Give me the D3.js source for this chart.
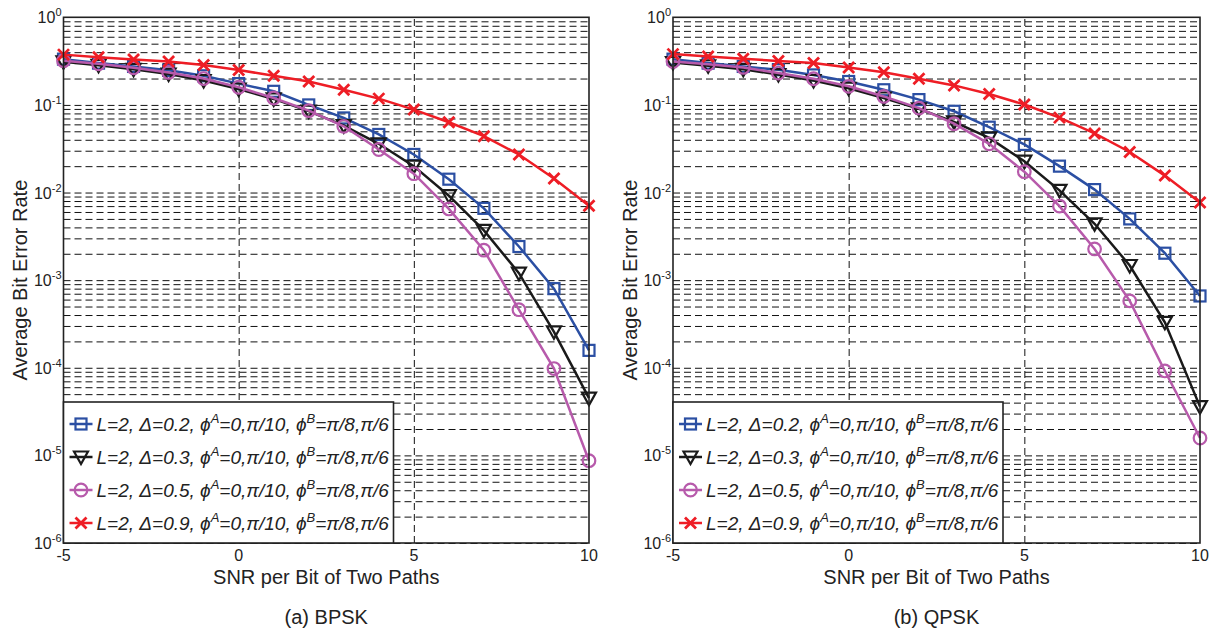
<!DOCTYPE html>
<html>
<head>
<meta charset="utf-8">
<title>ber_two_paths</title>
<script src="https://d3js.org/d3.v7.min.js"></script>
<style>
  body { margin: 0; background: #fff; }
  svg { font-family: "Liberation Sans", Arial, sans-serif; }
  .grid line { stroke: #111; stroke-width: 1; stroke-dasharray: 7,4; }
  .grid path { display: none; }
  .ticklab { font-size: 16px; fill: #222; }
  .axlab { font-size: 20px; fill: #222; }
  .legtext { font-size: 19px; font-style: italic; fill: #222; }
</style>
</head>
<body>
<script>
// SNR per bit (dB)
var snr = [-5,-4,-3,-2,-1,0,1,2,3,4,5,6,7,8,9,10];

// (a) BPSK
var bpsk02 = [0.333,0.30,0.275,0.248,0.215,0.175,0.143,0.10,0.071,0.046,0.0272,0.0142,0.0066,0.00242,0.0008,0.000158];
var bpsk03 = [0.31,0.283,0.255,0.225,0.19,0.152,0.117,0.085,0.058,0.036,0.02,0.0092,0.0037,0.0012,0.000257,0.000045];
var bpsk05 = [0.32,0.295,0.265,0.235,0.2,0.159,0.12,0.086,0.057,0.031,0.0164,0.0065,0.0022,0.00046,0.000098,0.0000087];
var bpsk09 = [0.375,0.35,0.33,0.313,0.285,0.25,0.215,0.185,0.149,0.118,0.0885,0.0634,0.044,0.0272,0.0145,0.00705];

// (b) QPSK
var qpsk02 = [0.333,0.30,0.275,0.252,0.22,0.185,0.149,0.115,0.0846,0.0557,0.0354,0.0200,0.0108,0.0050,0.00203,0.00066];
var qpsk03 = [0.305,0.28,0.255,0.222,0.19,0.155,0.12,0.09,0.064,0.042,0.0228,0.0106,0.0044,0.00147,0.00033,0.000036];
var qpsk05 = [0.313,0.292,0.268,0.231,0.199,0.163,0.125,0.092,0.061,0.036,0.0173,0.0070,0.00227,0.00058,0.000092,0.0000158];
var qpsk09 = [0.38,0.357,0.336,0.318,0.30,0.267,0.236,0.199,0.167,0.133,0.101,0.0716,0.0473,0.029,0.0156,0.0077];

var deltas = ["0.2","0.3","0.5","0.9"];
var colors = ["#2b4fa3","#1a1a1a","#b75aab","#ee1d25"];
var shapes = ["square","triangle","circle","cross"];
var xTicks = [-5,0,5,10];
var yDecades = [1e-6,1e-5,1e-4,1e-3,1e-2,1e-1,1];
var captions = ["(a) BPSK","(b) QPSK"];

var width = 1218, height = 630;
var top_y = 17.3, bottom_y = 543;

var svg = d3.select("body").append("svg")
  .attr("width", width)
  .attr("height", height);

var minorVals = [];
for (var e = -6; e < 0; e++) {
  for (var k = 1; k <= 9; k++) minorVals.push(k * Math.pow(10, e));
}

function marker(g, shape, color, cx, cy) {
  if (shape == "square") {
    g.append("rect").attr("x", cx-5.5).attr("y", cy-5.5).attr("width",11).attr("height",11)
      .attr("fill","none").attr("stroke",color).attr("stroke-width",2.2);
  } else if (shape == "triangle") {
    g.append("path").attr("d","M"+(cx-7)+","+(cy-5.5)+"L"+(cx+7)+","+(cy-5.5)+"L"+cx+","+(cy+7)+"Z")
      .attr("fill","none").attr("stroke",color).attr("stroke-width",2.2).attr("stroke-linejoin","miter");
  } else if (shape == "circle") {
    g.append("circle").attr("cx",cx).attr("cy",cy).attr("r",6.3)
      .attr("fill","none").attr("stroke",color).attr("stroke-width",2.2);
  } else {
    g.append("path").attr("d","M"+(cx-5.5)+","+(cy-5.5)+"L"+(cx+5.5)+","+(cy+5.5)+"M"+(cx-5.5)+","+(cy+5.5)+"L"+(cx+5.5)+","+(cy-5.5))
      .attr("fill","none").attr("stroke",color).attr("stroke-width",2.8);
  }
}

function drawPanel(left, right, series, caption, ylabX) {
  var x = d3.scaleLinear().domain([-5,10]).range([left, right]);
  var y = d3.scaleLog().domain([1e-6,1]).range([bottom_y, top_y]);
  var g = svg.append("g");

  // grid lines (dashed) from the axes
  g.append("g").attr("class","grid")
    .attr("transform","translate(" + left + ",0)")
    .call(d3.axisLeft(y).tickValues(minorVals).tickSize(-(right-left)).tickFormat(""));
  g.append("g").attr("class","grid")
    .attr("transform","translate(0," + bottom_y + ")")
    .call(d3.axisBottom(x).tickValues([0,5]).tickSize(-(bottom_y-top_y)).tickFormat(""));

  // curves
  var line = d3.line().x(function(d,i){return x(snr[i]);}).y(function(d){return y(d);});
  series.forEach(function(s, si) {
    g.append("path").datum(s)
      .attr("d", line)
      .attr("fill","none")
      .attr("stroke", colors[si])
      .attr("stroke-width", 2.5);
    var mg = g.append("g");
    s.forEach(function(d,i){ marker(mg, shapes[si], colors[si], x(snr[i]), y(d)); });
  });

  // box
  g.append("rect").attr("x",left).attr("y",top_y).attr("width",right-left).attr("height",bottom_y-top_y)
    .attr("fill","none").attr("stroke","#222").attr("stroke-width",1.6);

  // y tick labels 10^n
  yDecades.forEach(function(v) {
    var t = g.append("text").attr("class","ticklab")
      .attr("x", left - 2).attr("y", y(v) + 6)
      .attr("text-anchor","end");
    t.append("tspan").text("10");
    t.append("tspan").attr("dy",-7).style("font-size","11px").text(Math.round(Math.log10(v)));
  });

  // x tick labels
  xTicks.forEach(function(v) {
    g.append("text").attr("class","ticklab")
      .attr("x", x(v)).attr("y", bottom_y + 18)
      .attr("text-anchor","middle").text(v);
  });

  g.append("text").attr("class","axlab")
    .attr("x",(left+right)/2).attr("y",584)
    .attr("text-anchor","middle").text("SNR per Bit of Two Paths");
  g.append("text").attr("class","axlab")
    .attr("transform","translate(" + ylabX + "," + ((top_y+bottom_y)/2) + ") rotate(-90)")
    .attr("text-anchor","middle").text("Average Bit Error Rate");
  g.append("text").attr("class","axlab")
    .attr("x",(left+right)/2).attr("y",624)
    .attr("text-anchor","middle").text(caption);

  // legend
  var lg = g.append("g");
  lg.append("rect").attr("x",left).attr("y",402).attr("width",330).attr("height",bottom_y-402)
    .attr("fill","#fff").attr("stroke","#222").attr("stroke-width",1.6);
  deltas.forEach(function(dl, i) {
    var cy = 424 + i * 33;
    lg.append("line").attr("x1",left+6).attr("x2",left+29).attr("y1",cy).attr("y2",cy)
      .attr("stroke",colors[i]).attr("stroke-width",2.5);
    marker(lg, shapes[i], colors[i], left+17.5, cy);
    var t = lg.append("text").attr("class","legtext").attr("x",left+33).attr("y",cy+7);
    t.append("tspan").text("L=2, \u0394=" + dl + ", \u03D5");
    t.append("tspan").attr("dy",-8).style("font-size","13px").text("A");
    t.append("tspan").attr("dy",8).text("=0,\u03C0/10, \u03D5");
    t.append("tspan").attr("dy",-8).style("font-size","13px").text("B");
    t.append("tspan").attr("dy",8).text("=\u03C0/8,\u03C0/6");
  });
}

drawPanel(63.5, 589, [bpsk02,bpsk03,bpsk05,bpsk09], captions[0], 27);
drawPanel(673, 1200, [qpsk02,qpsk03,qpsk05,qpsk09], captions[1], 637);
</script>
</body>
</html>
